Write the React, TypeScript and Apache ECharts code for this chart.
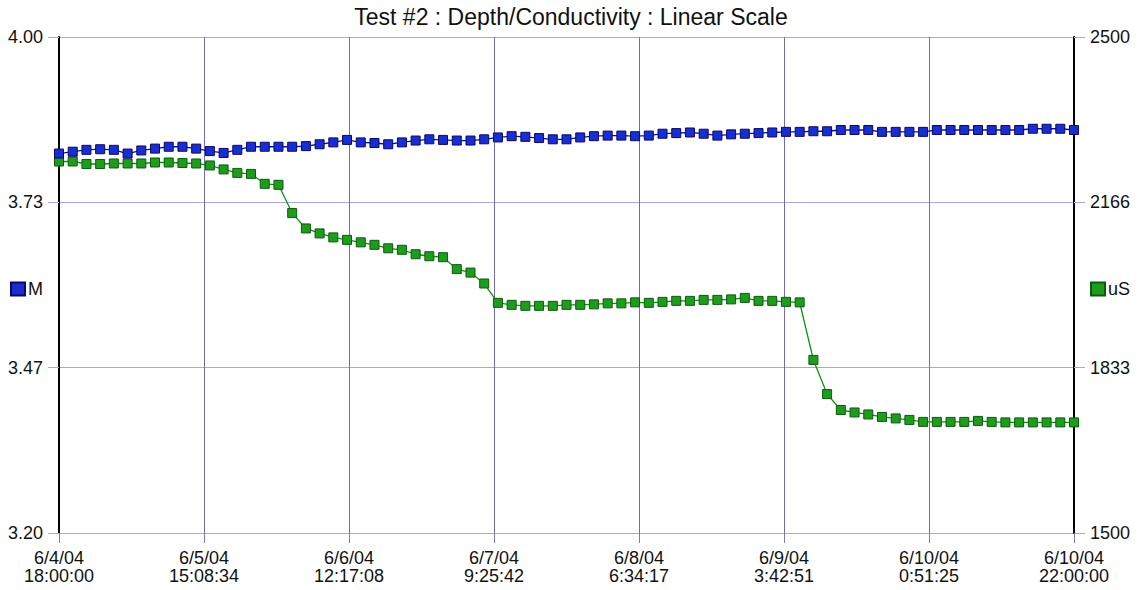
import React, { useEffect, useRef } from "react";
import * as echarts from "echarts";

const TITLE = "Test #2 : Depth/Conductivity : Linear Scale";
const xTickLabels = [
  "6/4/04\n18:00:00",
  "6/5/04\n15:08:34",
  "6/6/04\n12:17:08",
  "6/7/04\n9:25:42",
  "6/8/04\n6:34:17",
  "6/9/04\n3:42:51",
  "6/10/04\n0:51:25",
  "6/10/04\n22:00:00",
];
const leftTickLabels = ["3.20", "3.47", "3.73", "4.00"];
const rightTickLabels = ["1500", "1833", "2166", "2500"];

// samples every 2 hours from 6/4/04 18:00:00 (hours since start)
const STEP_HOURS = 2;
const TOTAL_HOURS = 148;

// Depth (M)
const depthM = [
  3.812, 3.815, 3.818, 3.819, 3.818, 3.812, 3.817, 3.82, 3.823, 3.823,
  3.82, 3.816, 3.813, 3.818, 3.823, 3.823, 3.823, 3.823, 3.824, 3.827,
  3.83, 3.834, 3.83, 3.829, 3.827, 3.83, 3.833, 3.835, 3.834, 3.833,
  3.833, 3.835, 3.838, 3.84, 3.839, 3.837, 3.835, 3.835, 3.838, 3.84,
  3.841, 3.841, 3.84, 3.841, 3.844, 3.845, 3.846, 3.844, 3.841, 3.843,
  3.844, 3.845, 3.846, 3.847, 3.847, 3.848, 3.848, 3.85, 3.85, 3.85,
  3.847, 3.847, 3.847, 3.847, 3.85, 3.85, 3.85, 3.85, 3.85, 3.85,
  3.85, 3.852, 3.852, 3.852, 3.85,
];

// Conductivity (uS)
const conductivityUS = [
  2249, 2249, 2244, 2244, 2245, 2245, 2245, 2247, 2247, 2246,
  2245, 2241, 2233, 2226, 2224, 2204, 2202, 2145, 2114, 2104,
  2096, 2091, 2086, 2081, 2074, 2071, 2062, 2058, 2056, 2032,
  2025, 2003, 1964, 1960, 1958, 1958, 1958, 1960, 1960, 1961,
  1963, 1963, 1965, 1964, 1966, 1968, 1968, 1970, 1970, 1971,
  1974, 1968, 1968, 1966, 1965, 1849, 1780, 1748, 1743, 1739,
  1734, 1731, 1728, 1724, 1724, 1724, 1724, 1726, 1724, 1723,
  1723, 1723, 1723, 1723, 1723,
];

const FONT = "'Liberation Sans', Arial, sans-serif";

export default function App() {
  const ref = useRef<HTMLDivElement>(null);

  useEffect(() => {
    if (!ref.current) return;
    const chart = echarts.init(ref.current, undefined, { renderer: "svg" });
    const xInterval = TOTAL_HOURS / (xTickLabels.length - 1);
    const lInterval = 0.8 / 3;
    const rInterval = 1000 / 3;

    const depthData = depthM.map((v, i) => [i * STEP_HOURS, v]);
    const condData = conductivityUS.map((v, i) => [i * STEP_HOURS, v]);

    chart.setOption({
      animation: false,
      backgroundColor: "#ffffff",
      textStyle: { fontFamily: FONT },
      title: {
        text: TITLE,
        left: "center",
        top: 0,
        textStyle: {
          fontFamily: FONT,
          fontSize: 23,
          fontWeight: "normal",
          color: "#111111",
        },
      },
      legend: [
        {
          data: ["M"],
          left: 10,
          top: 280,
          padding: 0,
          icon: "rect",
          itemWidth: 14,
          itemHeight: 13,
          textStyle: { fontFamily: FONT, fontSize: 18, color: "#111", padding: [0, 0, 0, -2] },
        },
        {
          data: ["uS"],
          left: 1090,
          top: 280,
          padding: 0,
          icon: "rect",
          itemWidth: 14,
          itemHeight: 13,
          textStyle: { fontFamily: FONT, fontSize: 18, color: "#111", padding: [0, 0, 0, -2] },
        },
      ],
      grid: { left: 59, right: 68, top: 37, bottom: 57, containLabel: false },
      xAxis: {
        type: "value",
        min: 0,
        max: TOTAL_HOURS,
        interval: xInterval,
        axisLine: { show: false },
        axisTick: {
          show: true,
          length: 10,
          lineStyle: { color: "#7a7ab8", width: 1 },
        },
        splitLine: { show: true, lineStyle: { color: "#6e6eaa", width: 1 } },
        axisLabel: {
          margin: 16,
          fontFamily: FONT,
          fontSize: 18,
          color: "#111",
          lineHeight: 18,
          showMinLabel: true,
          showMaxLabel: true,
          formatter: (v: number) => {
            const idx = Math.round(v / xInterval);
            return xTickLabels[idx] ?? "";
          },
        },
      },
      yAxis: [
        {
          type: "value",
          position: "left",
          min: 3.2,
          max: 4.0,
          interval: lInterval,
          axisLine: { show: true, lineStyle: { color: "#000", width: 2 } },
          axisTick: {
            show: true,
            length: 11,
            lineStyle: { color: "#a8a8e0", width: 1 },
          },
          splitLine: { show: true, lineStyle: { color: "#a8a8e0", width: 1 } },
          axisLabel: {
            margin: 16,
            fontFamily: FONT,
            fontSize: 18,
            color: "#111",
            formatter: (v: number) => {
              const idx = Math.round((v - 3.2) / lInterval);
              return leftTickLabels[idx] ?? "";
            },
          },
        },
        {
          type: "value",
          position: "right",
          min: 1500,
          max: 2500,
          interval: rInterval,
          axisLine: { show: true, lineStyle: { color: "#000", width: 2 } },
          axisTick: {
            show: true,
            length: 11,
            lineStyle: { color: "#a8a8e0", width: 1 },
          },
          splitLine: { show: false },
          axisLabel: {
            margin: 16,
            fontFamily: FONT,
            fontSize: 18,
            color: "#111",
            formatter: (v: number) => {
              const idx = Math.round((v - 1500) / rInterval);
              return rightTickLabels[idx] ?? "";
            },
          },
        },
      ],
      series: [
        {
          name: "M",
          type: "line",
          yAxisIndex: 0,
          data: depthData,
          symbol: "rect",
          symbolSize: 9,
          showAllSymbol: true,
          lineStyle: { color: "#0a1488", width: 1.3 },
          itemStyle: { color: "#1a2ed0", borderColor: "#08086e", borderWidth: 1 },
          z: 3,
        },
        {
          name: "uS",
          type: "line",
          yAxisIndex: 1,
          data: condData,
          symbol: "rect",
          symbolSize: 9,
          showAllSymbol: true,
          lineStyle: { color: "#128a12", width: 1.3 },
          itemStyle: { color: "#1e9c1e", borderColor: "#0a5c0a", borderWidth: 1 },
          z: 2,
        },
      ],
    });
    return () => chart.dispose();
  }, []);

  return (
    <div
      ref={ref}
      style={{ position: "fixed", left: 0, top: 0, width: 1142, height: 590, background: "#fff" }}
    />
  );
}
